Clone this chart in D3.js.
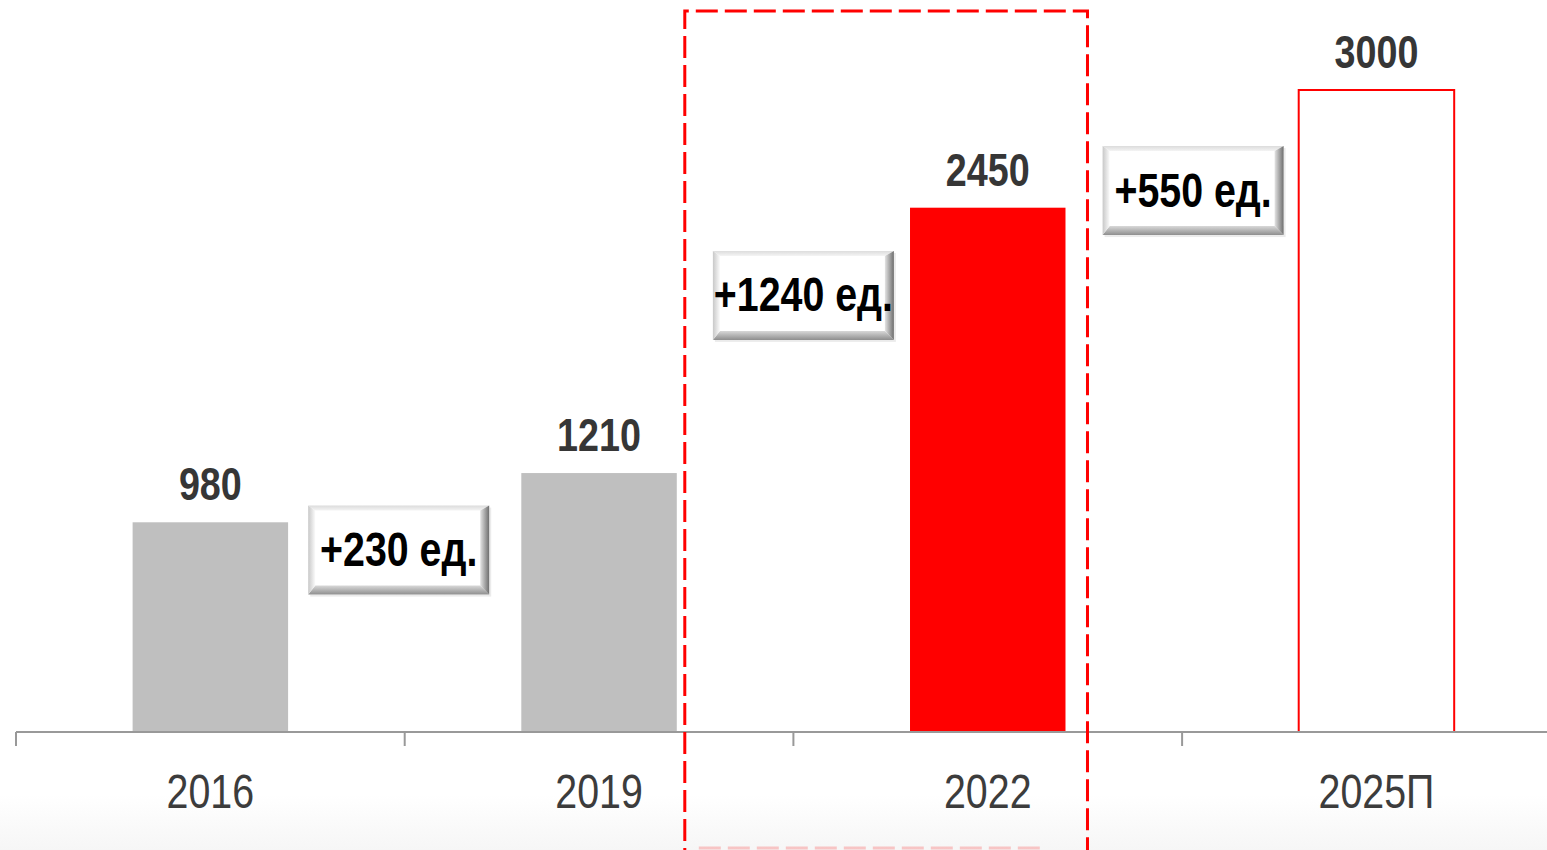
<!DOCTYPE html>
<meta charset="utf-8">
<style>

html, body {
  margin: 0;
  background: #fff;
}

svg {
  display: block;
}

.value {
  font: bold 46px "Liberation Sans Narrow", "Arial Narrow", "Liberation Sans", sans-serif;
  fill: #363636;
  text-anchor: middle;
}

.year {
  font: 48px "Liberation Sans Narrow", "Arial Narrow", "Liberation Sans", sans-serif;
  fill: #3c3c3c;
  text-anchor: middle;
}

.delta text {
  font: bold 48px "Liberation Sans Narrow", "Arial Narrow", "Liberation Sans", sans-serif;
  fill: #000;
  text-anchor: middle;
}

</style>
<svg class="chart"></svg>
<script src="https://d3js.org/d3.v7.min.js"></script>
<script>

var years = ['2016', '2019', '2022', '2025П'];
var values = [980, 1210, 2450, 3000];
var barKinds = ['past', 'past', 'current', 'plan'];

var width = 1547;
var height = 850;
var baseY = 732;
// no narrow face installed, so squeeze the regular one
var narrow = 0.82;

var svg = d3.select('svg.chart')
  .attr('width', width)
  .attr('height', height);

var defs = svg.append('defs');

// soft grey fade at the bottom of the slide
var bg = defs.append('linearGradient').attr('id', 'bg').attr('x1', 0).attr('x2', 0).attr('y1', 0).attr('y2', 1);
bg.append('stop').attr('offset', '0').attr('stop-color', '#fff');
bg.append('stop').attr('offset', '1').attr('stop-color', '#f6f6f6');

svg.append('rect')
  .attr('x', 0).attr('y', 795)
  .attr('width', width).attr('height', height - 795)
  .attr('fill', 'url(#bg)');

var x = d3.scaleBand()
  .domain(years)
  .range([16, 16 + 4 * 388.7])
  .paddingInner(0.6)
  .paddingOuter(0.3);

var y = d3.scaleLinear()
  .domain([0, 3000])
  .range([baseY, 90]);

var step = x.step();
var bw = x.bandwidth();

function squeeze(tx, ty) {
  return 'translate(' + tx + ',' + ty + ') scale(' + narrow + ',1)';
}

// bars
svg.append('g').selectAll('rect')
  .data(values)
  .enter().append('rect')
  .attr('x', function (d, i) { return x(years[i]); })
  .attr('y', function (d) { return y(d); })
  .attr('width', bw)
  .attr('height', function (d) { return baseY - y(d); })
  .attr('fill', function (d, i) {
    return barKinds[i] === 'past' ? '#bfbfbf' : barKinds[i] === 'current' ? '#ff0000' : '#fff';
  })
  .attr('stroke', function (d, i) { return barKinds[i] === 'plan' ? '#ff0000' : 'none'; })
  .attr('stroke-width', 2);

// axis line with ticks between categories
svg.append('line')
  .attr('x1', 16).attr('x2', width)
  .attr('y1', baseY).attr('y2', baseY)
  .attr('stroke', '#999').attr('stroke-width', 2);

svg.append('g').selectAll('line')
  .data(years)
  .enter().append('line')
  .attr('x1', function (d) { return x(d) - (step - bw) / 2; })
  .attr('x2', function (d) { return x(d) - (step - bw) / 2; })
  .attr('y1', baseY).attr('y2', baseY + 14)
  .attr('stroke', '#999').attr('stroke-width', 2);

svg.append('g').selectAll('text')
  .data(years)
  .enter().append('text')
  .attr('class', 'year')
  .attr('transform', function (d) { return squeeze(x(d) + bw / 2, 808); })
  .text(function (d) { return d; });

// value labels
svg.append('g').selectAll('text')
  .data(values)
  .enter().append('text')
  .attr('class', 'value')
  .attr('transform', function (d, i) { return squeeze(x(years[i]) + bw / 2, y(d) - 22); })
  .text(function (d) { return d; });

// dashed frame around 2022
var frameX0 = x(years[1]) + bw + 8;
var frameX1 = x(years[2]) + bw + 22;
svg.append('path')
  .attr('d', 'M' + frameX0 + ',' + (height + 20) + 'V11H' + frameX1 + 'V' + (height + 20))
  .attr('fill', 'none')
  .attr('stroke', '#ff0000')
  .attr('stroke-width', 3)
  .attr('stroke-dasharray', '22,7');

svg.append('line')
  .attr('x1', frameX0 + 14).attr('x2', frameX1 - 46)
  .attr('y1', 848).attr('y2', 848)
  .attr('stroke', '#ff0000').attr('stroke-opacity', 0.2)
  .attr('stroke-width', 3)
  .attr('stroke-dasharray', '22,7');

// bevel gradients for the delta buttons
function grad(id, x2, y2, c0, c1) {
  var g = defs.append('linearGradient').attr('id', id)
    .attr('x1', 0).attr('y1', 0).attr('x2', x2).attr('y2', y2);
  g.append('stop').attr('offset', '0').attr('stop-color', c0);
  g.append('stop').attr('offset', '1').attr('stop-color', c1);
}
grad('bevTop', 0, 1, '#dcdcdc', '#f4f4f4');
grad('bevBottom', 0, 1, '#d8d8d8', '#8e8e8e');
grad('bevLeft', 1, 0, '#c8c8c8', '#fafafa');
grad('bevRight', 1, 0, '#e4e4e4', '#6e6e6e');

var deltas = values.slice(1).map(function (v, i) { return v - values[i]; });
// placement of each button: level in value units, shift from the category gap in px
var deltaLevels = [850, 2040, 2530];
var deltaShift = [-6, 10, 11];

var boxW = 181, boxH = 89;
var box = svg.append('g').attr('class', 'delta').selectAll('g')
  .data(deltas)
  .enter().append('g')
  .attr('transform', function (d, i) {
    var cx = x(years[i + 1]) - (step - bw) / 2 + deltaShift[i];
    return 'translate(' + (cx - boxW / 2) + ',' + (y(deltaLevels[i]) - boxH / 2) + ')';
  });

var bl = 7, bt = 5, br = 9, bb = 9;
box.append('rect')
  .attr('x', 2).attr('y', 2).attr('width', boxW).attr('height', boxH)
  .attr('fill', '#000').attr('opacity', 0.08);
box.append('rect')
  .attr('width', boxW).attr('height', boxH).attr('fill', '#fff');
box.append('path')
  .attr('d', 'M0,0H' + boxW + 'L' + (boxW - br) + ',' + bt + 'H' + bl + 'Z')
  .attr('fill', 'url(#bevTop)');
box.append('path')
  .attr('d', 'M0,' + boxH + 'H' + boxW + 'L' + (boxW - br) + ',' + (boxH - bb) + 'H' + bl + 'Z')
  .attr('fill', 'url(#bevBottom)');
box.append('path')
  .attr('d', 'M0,0L' + bl + ',' + bt + 'V' + (boxH - bb) + 'L0,' + boxH + 'Z')
  .attr('fill', 'url(#bevLeft)');
box.append('path')
  .attr('d', 'M' + boxW + ',0L' + (boxW - br) + ',' + bt + 'V' + (boxH - bb) + 'L' + boxW + ',' + boxH + 'Z')
  .attr('fill', 'url(#bevRight)');

box.append('text')
  .attr('transform', squeeze(boxW / 2, boxH / 2 + 16))
  .text(function (d) { return '+' + d + ' ед.'; });

</script>
